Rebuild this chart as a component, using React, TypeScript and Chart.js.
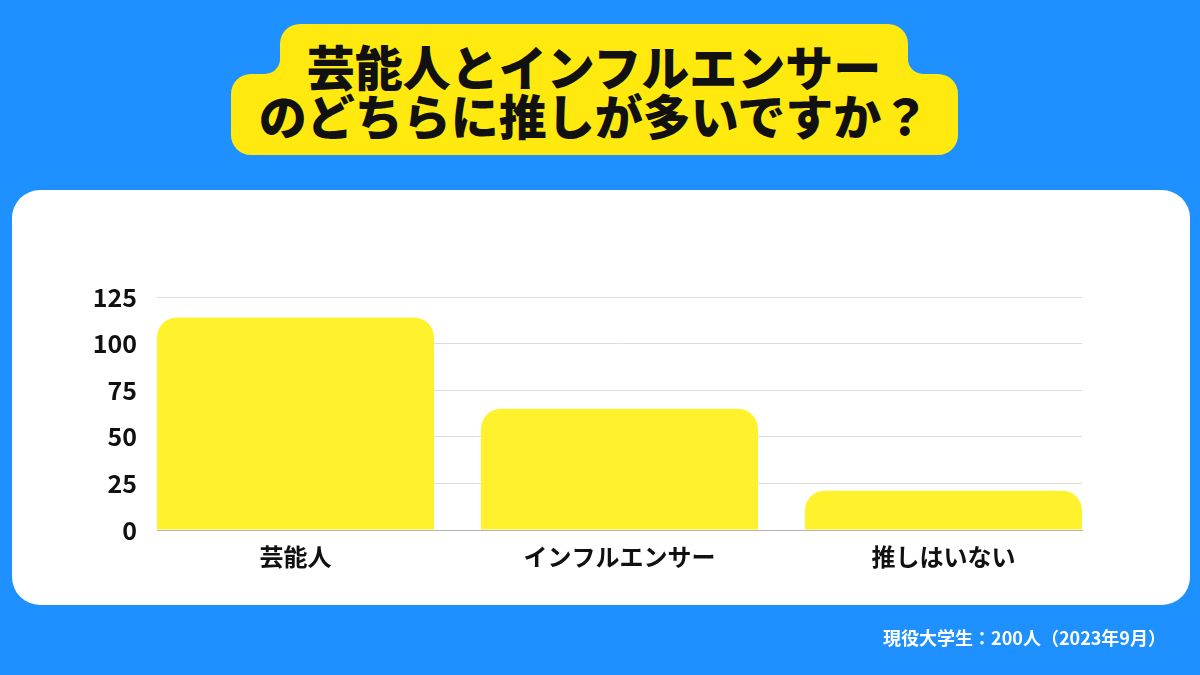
import React, { useEffect, useRef } from "react";
import { Chart, registerables } from "chart.js";

Chart.register(...registerables);

const categories: string[] = ["芸能人", "インフルエンサー", "推しはいない"];
const counts: number[] = [114, 65, 21];
const yTicks: number[] = [0, 25, 50, 75, 100, 125];
const titleLines: string[] = ["芸能人とインフルエンサー", "のどちらに推しが多いですか？"];
const footnote = "現役大学生：200人（2023年9月）";

const FONT = '"Noto Sans CJK JP", "Noto Sans", sans-serif';

export default function App() {
  const ref = useRef<HTMLCanvasElement | null>(null);

  useEffect(() => {
    if (!ref.current) return;
    const half = 0.4275;
    const chart = new Chart(ref.current, {
      type: "bar",
      data: {
        datasets: [
          {
            data: categories.map((_, i) => ({ x: i, y: counts[i] })),
            backgroundColor: "#FFF22C",
            borderWidth: 0,
            borderRadius: 20,
            borderSkipped: "bottom",
            categoryPercentage: 1,
            barPercentage: 0.855,
          } as any,
        ],
      },
      options: {
        animation: false,
        responsive: false,
        layout: { padding: { left: 0, right: 118, top: 297, bottom: 85 } },
        plugins: { legend: { display: false }, tooltip: { enabled: false } },
        scales: {
          x: {
            type: "linear",
            offset: false,
            min: -half,
            max: categories.length - 1 + half,
            afterBuildTicks: (scale: any) => {
              scale.ticks = categories.map((_, i) => ({ value: i }));
            },
            afterFit: (scale: any) => {
              scale.height = 60;
            },
            grid: { display: false, drawTicks: false, offset: false },
            border: { display: true, color: "#b3b3b3", width: 1 },
            ticks: {
              padding: 12,
              color: "#111111",
              font: { family: FONT, size: 24, weight: "bold", lineHeight: 1.2 },
              callback: (v: any) => categories[Number(v)] ?? "",
              maxRotation: 0,
              autoSkip: false,
            },
          },
          y: {
            min: 0,
            max: yTicks[yTicks.length - 1],
            afterBuildTicks: (scale: any) => {
              scale.ticks = yTicks.map((v) => ({ value: v }));
            },
            afterFit: (scale: any) => {
              scale.width = 157;
            },
            grid: { color: "#dcdcdc", lineWidth: 1, drawTicks: false },
            border: { display: false },
            ticks: {
              padding: 20,
              color: "#111111",
              font: { family: FONT, size: 25, weight: "bold" },
            },
          },
        },
      } as any,
    });
    return () => chart.destroy();
  }, []);

  const titlePath =
    "M 300 24 H 888 A 20 20 0 0 1 908 44 V 59 A 15 15 0 0 0 923 74 H 938 A 20 20 0 0 1 958 94 V 135 A 20 20 0 0 1 938 155 H 251 A 20 20 0 0 1 231 135 V 94 A 20 20 0 0 1 251 74 H 265 A 15 15 0 0 0 280 59 V 44 A 20 20 0 0 1 300 24 Z";

  return (
    <div
      style={{
        position: "fixed",
        left: 0,
        top: 0,
        width: 1200,
        height: 675,
        background: "#1E90FF",
        overflow: "hidden",
        fontFamily: FONT,
      }}
    >
      <svg width={1200} height={675} style={{ position: "absolute", left: 0, top: 0 }}>
        <path d={titlePath} fill="#FFE90F" />
      </svg>
      <div
        style={{
          position: "absolute",
          left: 0,
          top: 41,
          width: 1188,
          textAlign: "center",
          fontSize: 48,
          lineHeight: "49px",
          fontWeight: 900,
          color: "#111111",
          whiteSpace: "nowrap",
        }}
      >
        {titleLines.map((t, i) => (
          <div key={i}>{t}</div>
        ))}
      </div>
      <div
        style={{
          position: "absolute",
          left: 12,
          top: 190,
          width: 1178,
          height: 415,
          background: "#ffffff",
          borderRadius: 28,
        }}
      />
      <canvas
        ref={ref}
        width={1200}
        height={675}
        style={{ position: "absolute", left: 0, top: 0, width: 1200, height: 675 }}
      />
      <div
        style={{
          position: "absolute",
          right: 34,
          top: 625,
          fontSize: 18,
          lineHeight: "24px",
          fontWeight: 700,
          color: "#ffffff",
          whiteSpace: "nowrap",
        }}
      >
        {footnote}
      </div>
    </div>
  );
}
